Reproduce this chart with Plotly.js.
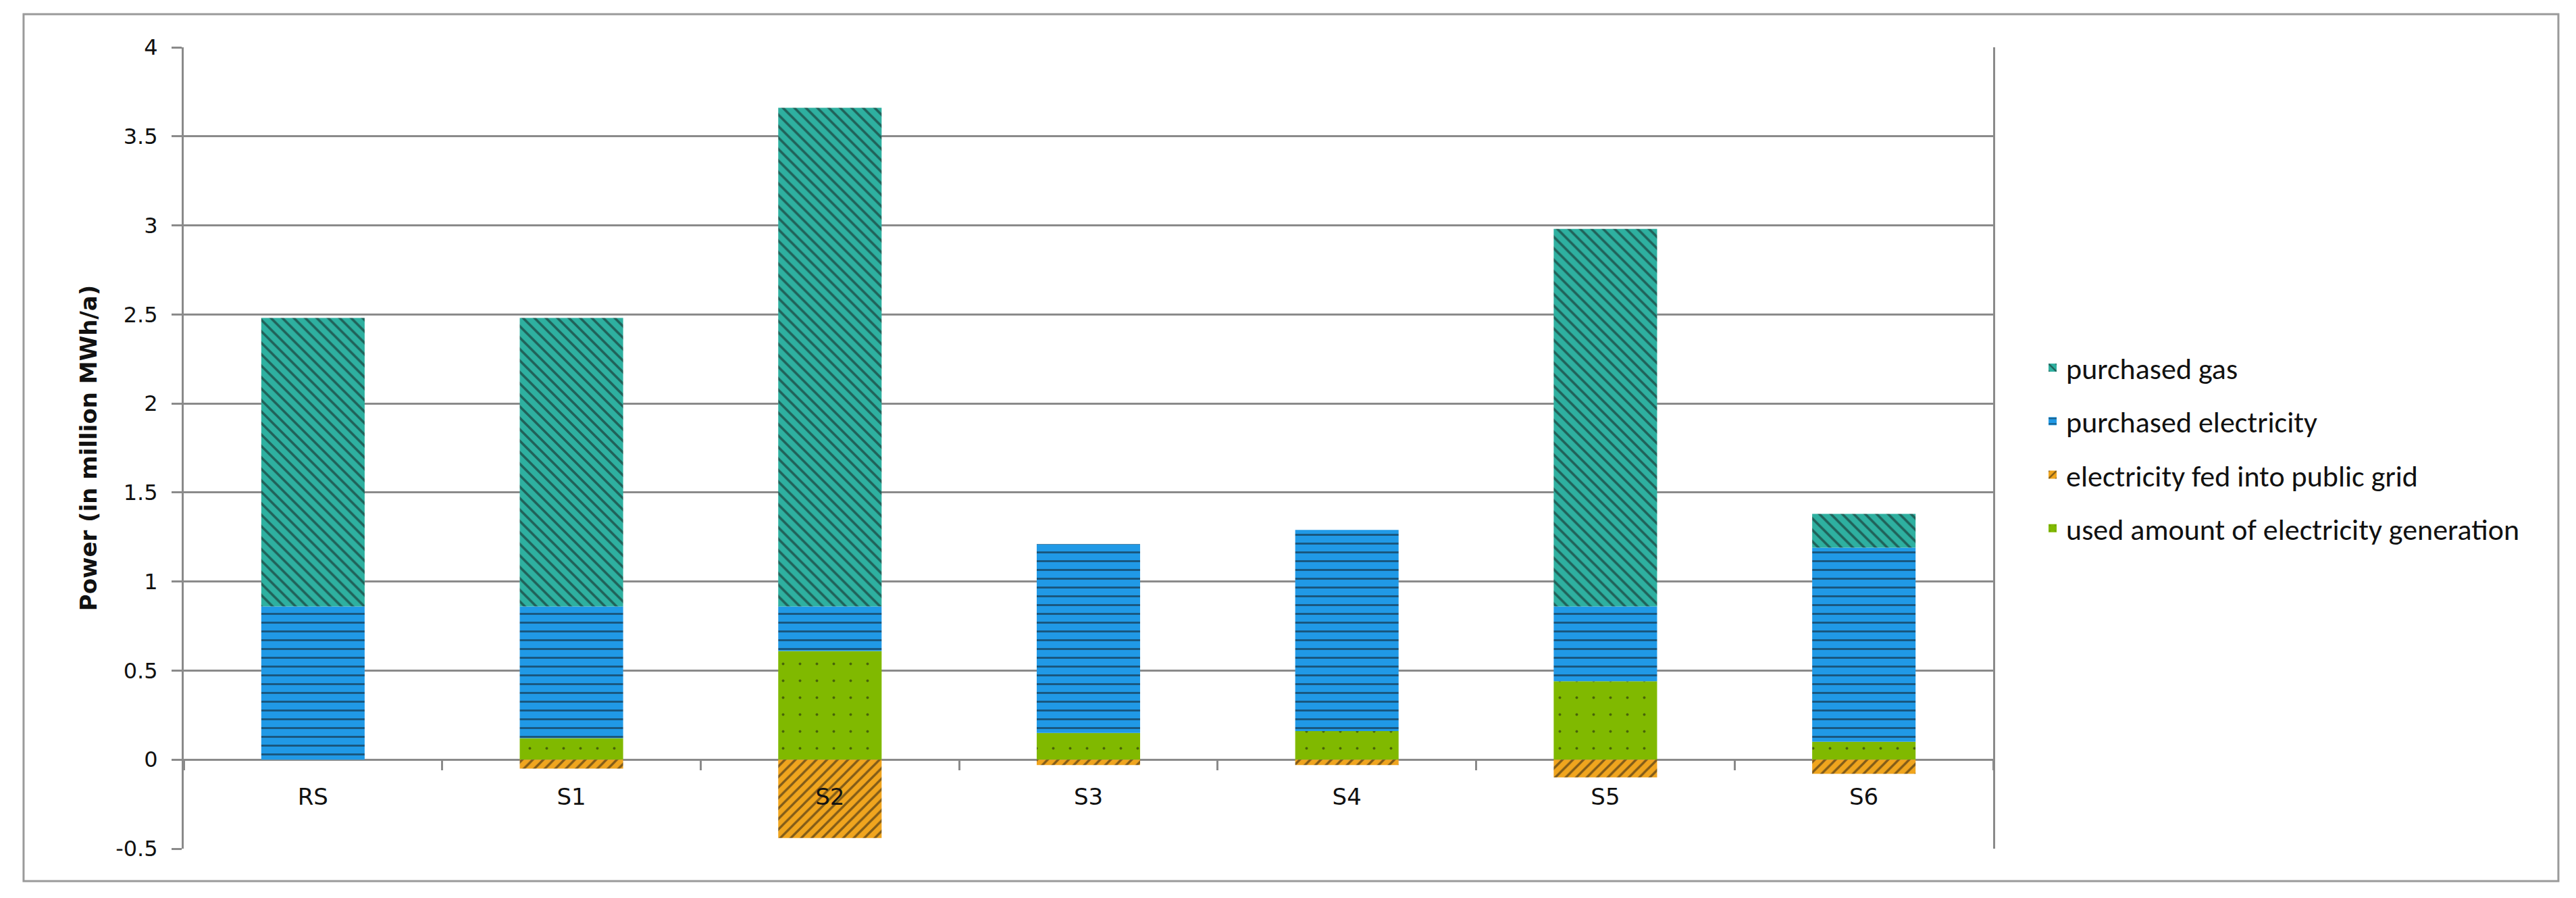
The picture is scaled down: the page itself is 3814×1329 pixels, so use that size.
<!DOCTYPE html>
<html><head><meta charset="utf-8">
<script src="https://cdn.plot.ly/plotly-3.0.1.min.js"></script>
<style>html,body{margin:0;padding:0;background:#fff}#chart{width:3814px;height:1329px}</style>
</head><body><div id="chart"></div>
<script>
// ---- data ----
const categories = ['RS', 'S1', 'S2', 'S3', 'S4', 'S5', 'S6'];
const seriesNames = ['used amount of electricity generation', 'electricity fed into public grid', 'purchased electricity', 'purchased gas'];
const usedGeneration = [0, 0.12, 0.61, 0.15, 0.16, 0.44, 0.10];
const fedIntoGrid = [0, -0.05, -0.44, -0.03, -0.03, -0.10, -0.08];
const purchasedElectricity = [0.86, 0.74, 0.25, 1.06, 1.13, 0.42, 1.09];
const purchasedGas = [1.62, 1.62, 2.80, 0, 0, 2.12, 0.19];
const yTickVals = [-0.5, 0, 0.5, 1, 1.5, 2, 2.5, 3, 3.5, 4];
const yTickText = ['-0.5', '0', '0.5', '1', '1.5', '2', '2.5', '3', '3.5', '4'];
const yTitle = 'Power (in million MWh/a)';

// ---- styles ----
const GRID = '#8a8a8a';
const LEGEND_FONT = 'Carlito, "Liberation Sans Narrow", "Liberation Sans", sans-serif';
const TICK_FONT = '"DejaVu Sans", "Liberation Sans", sans-serif';
const styles = [
  {color: '#80b900', rank: 4, pattern: {shape: '.', fgcolor: '#111', bgcolor: '#80b900', fillmode: 'overlay', size: 25, solidity: 0.02}},
  {color: '#f0a51e', rank: 3, pattern: {shape: '/', fgcolor: '#111', bgcolor: '#f0a51e', fillmode: 'overlay', size: 11, solidity: 0.3}},
  {color: '#2099e6', rank: 2, pattern: {shape: '-', fgcolor: '#111', bgcolor: '#2099e6', fillmode: 'overlay', size: 13, solidity: 0.22}},
  {color: '#2eb0a0', rank: 1, pattern: {shape: '\\', fgcolor: '#111', bgcolor: '#2eb0a0', fillmode: 'overlay', size: 12, solidity: 0.3}}
];
const values = [usedGeneration, fedIntoGrid, purchasedElectricity, purchasedGas];

const traces = values.map((v, i) => ({
  type: 'bar',
  name: seriesNames[i],
  legendgroup: 'g' + i,
  legendrank: styles[i].rank,
  x: categories,
  y: v,
  marker: {color: styles[i].color, pattern: styles[i].pattern, line: {width: 0}},
  hoverinfo: 'x+y+name'
}));

const layout = {
  width: 3814, height: 1329,
  paper_bgcolor: '#ffffff', plot_bgcolor: '#ffffff',
  margin: {l: 272, r: 863, t: 70, b: 73, pad: 0},
  barmode: 'relative',
  bargap: 0.6,
  font: {family: LEGEND_FONT, color: '#111'},
  xaxis: {
    type: 'category',
    anchor: 'free', position: 0.1113,
    showline: false, showgrid: false, zeroline: false,
    ticks: 'outside', tickson: 'boundaries', ticklen: 15, tickwidth: 3, tickcolor: GRID,
    tickfont: {family: TICK_FONT, size: 34, color: '#111'},
    ticklabelstandoff: 32
  },
  yaxis: {
    range: [-0.5, 4],
    tickmode: 'array', tickvals: yTickVals, ticktext: yTickText,
    showgrid: true, gridcolor: GRID, gridwidth: 3,
    zeroline: true, zerolinecolor: GRID, zerolinewidth: 3,
    showline: true, mirror: true, linecolor: GRID, linewidth: 3,
    ticks: 'outside', ticklen: 15, tickwidth: 3, tickcolor: GRID,
    tickfont: {family: TICK_FONT, size: 32, color: '#111'},
    ticklabelstandoff: 14,
    title: {text: yTitle, font: {family: TICK_FONT, size: 34, color: '#111', weight: 'bold'}, standoff: 18}
  },
  legend: {
    x: 1.0254, xanchor: 'left', y: 0.5, yanchor: 'middle',
    traceorder: 'grouped', tracegroupgap: 19,
    font: {family: LEGEND_FONT, size: 44, color: '#111'},
    bgcolor: 'rgba(0,0,0,0)'
  },
  shapes: [{
    type: 'rect', xref: 'paper', yref: 'paper',
    x0: -0.0885, x1: 1.3124, y0: -0.0405, y1: 1.0413,
    line: {color: '#9a9a9a', width: 3}, layer: 'below'
  }],
  showlegend: true
};

Plotly.newPlot('chart', traces, layout, {displayModeBar: false, staticPlot: true});
</script>
</body></html>
